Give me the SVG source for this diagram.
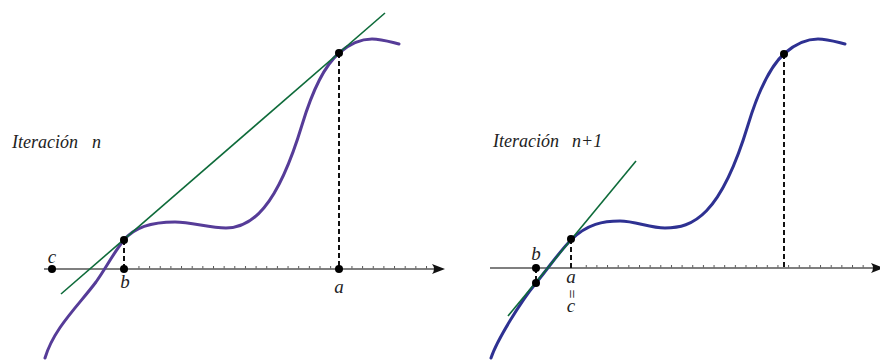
<svg xmlns="http://www.w3.org/2000/svg" width="880" height="360" viewBox="0 0 880 360">
<defs>
<style>
.axis{stroke:#555;stroke-width:1.5;fill:none}
.arrow{fill:#111}
.dash{stroke:#111;stroke-width:2;stroke-dasharray:5 3;fill:none}
.curveL{stroke:#563c98;stroke-width:3;fill:none;stroke-linecap:round}
.curveR{stroke:#2e3192;stroke-width:3;fill:none;stroke-linecap:round}
.tan{stroke:#0e6b3a;stroke-width:1.6;fill:none}
.dot{fill:#000}
.lbl{font-family:"Liberation Serif","DejaVu Serif",serif;font-style:italic;font-size:19px;fill:#222}
.ttl{font-family:"Liberation Serif","DejaVu Serif",serif;font-style:italic;font-size:18px;fill:#222}
</style>
<pattern id="ticks" x="0" y="0" width="10.65" height="4" patternUnits="userSpaceOnUse">
<rect x="0" y="0" width="1" height="4" fill="#555"/>
</pattern>
</defs>

<g id="axes">
<g id="axis-left">
<line class="axis" x1="44" y1="269" x2="436" y2="269"/>
<rect x="138" y="266" width="290" height="2.5" fill="url(#ticks)"/>
<path class="arrow" d="M445,269 L432,264 Q436,269 432,274 Z"/>
</g>
<g id="axis-right">
<line class="axis" x1="490" y1="268" x2="876" y2="268"/>
<rect x="584" y="265" width="290" height="2.5" fill="url(#ticks)"/>
<path class="arrow" d="M884,268 L871,263 Q875,268 871,273 Z"/>
</g>
</g>

<g id="connectors">
<line class="dash" x1="124" y1="240" x2="124" y2="269"/>
<line class="dash" x1="339" y1="53" x2="339" y2="269"/>
<line class="dash" x1="571" y1="239" x2="571" y2="268"/>
<line class="dash" x1="784" y1="54" x2="784" y2="268"/>
<line class="dash" x1="536" y1="268" x2="536" y2="283"/>
</g>

<g id="curve-left">
<path class="curveL" d="M45,358 C54,328 78,306 96,282 C106,268 114,252 124,240 C136,225 158,222 175,222 C192,222 209,228 226,228 C251.3,228 276.7,208.5 302,125 C314.3,84.3 326.7,63.7 339,53 C350,43.5 361,39 372,39 C381,39 390,41.8 399,44"/>
</g>
<g id="tangent-left">
<line class="tan" x1="61" y1="294" x2="385" y2="13"/>
</g>

<g id="curve-right">
<path class="curveR" d="M491,358 C497,340 521,301.2 536,283 C547.7,268.9 559.3,251.7 571,240 C587.3,223.7 603.7,221 620,221 C635,221 650,228 665,228 C692.7,228 720.3,216.4 748,125 C760.3,84.3 772.7,63.7 785,53 C796,43.5 807,39 818,39 C827,39 836,41.8 845,44"/>
</g>
<g id="tangent-right">
<line class="tan" x1="508" y1="316" x2="636" y2="161"/>
</g>

<g id="node-c-left"><circle class="dot" cx="52" cy="269" r="4"/><text class="lbl" x="52" y="263" text-anchor="middle">c</text></g>
<g id="node-b-left"><circle class="dot" cx="124" cy="269" r="4"/><text class="lbl" x="125" y="288" text-anchor="middle">b</text></g>
<g id="node-fb-left"><circle class="dot" cx="124" cy="240" r="4"/></g>
<g id="node-a-left"><circle class="dot" cx="339" cy="269" r="4"/><text class="lbl" x="339" y="293" text-anchor="middle">a</text></g>
<g id="node-fa-left"><circle class="dot" cx="339" cy="53" r="4"/></g>

<g id="node-b-right"><circle class="dot" cx="536" cy="268" r="4"/><text class="lbl" x="536" y="260" text-anchor="middle">b</text></g>
<g id="node-fb-right"><circle class="dot" cx="536" cy="283" r="4"/></g>
<g id="node-fa-right"><circle class="dot" cx="571" cy="239" r="4"/></g>
<g id="node-a-right"><text class="lbl" x="571" y="283" text-anchor="middle">a</text><text class="lbl" style="font-style:normal;font-size:16px" x="571" y="294" text-anchor="middle" dominant-baseline="central" transform="rotate(90 571 294)">=</text><text class="lbl" x="571" y="312" text-anchor="middle">c</text></g>
<g id="node-top-right"><circle class="dot" cx="784" cy="54" r="4"/></g>

<g id="title-left"><text class="ttl" x="12" y="148">Iteración<tspan x="92">n</tspan></text></g>
<g id="title-right"><text class="ttl" x="493" y="147">Iteración<tspan x="572">n+1</tspan></text></g>
</svg>
